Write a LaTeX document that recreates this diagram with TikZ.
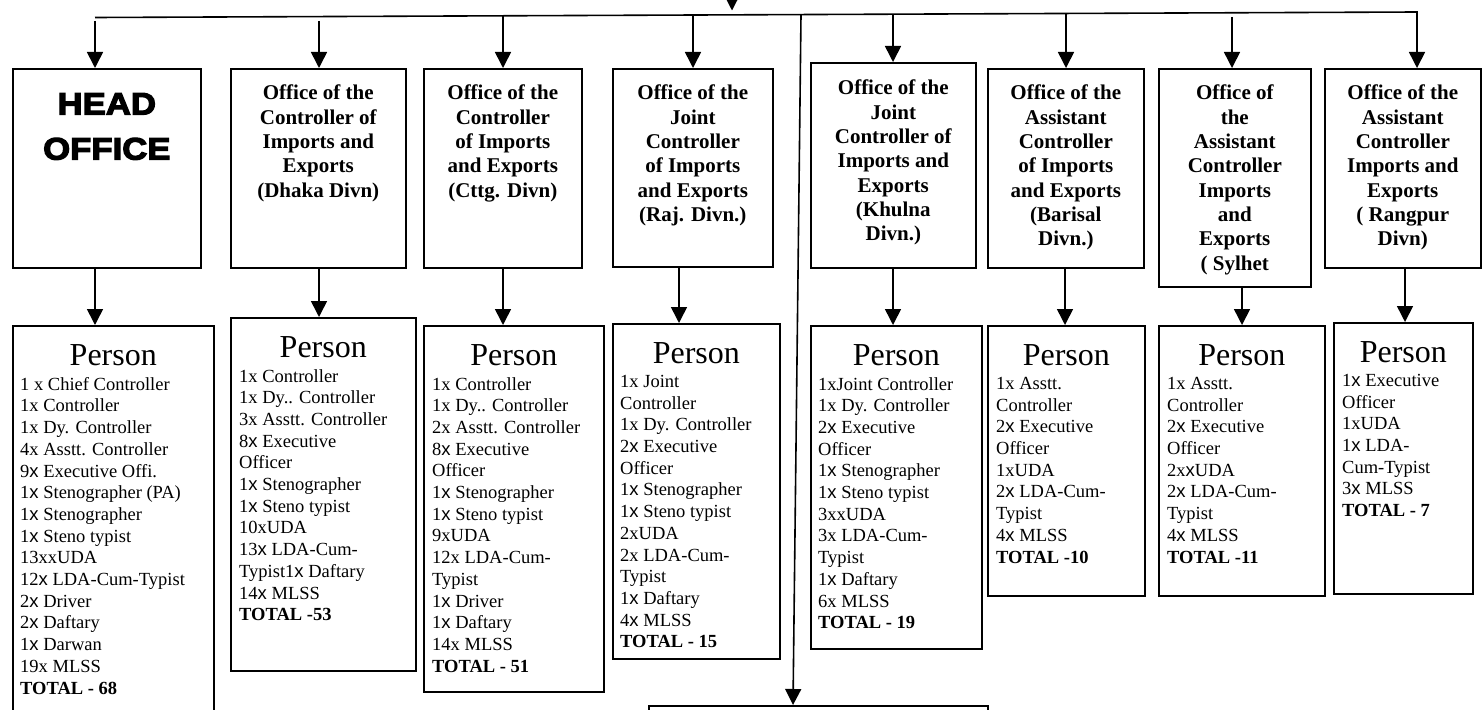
\documentclass[tikz,border=0pt]{standalone}
\usepackage{fontspec}
\setmainfont{Liberation Serif}
\newfontfamily\sxf{Liberation Sans}
\newfontfamily\blackf[FakeBold=4,FakeStretch=1.12]{Liberation Sans Bold}
\usetikzlibrary{arrows.meta,calc}
\newcommand\X{{\sxf x}}
\begin{document}
\begin{tikzpicture}[x=1pt,y=-1pt,
 box/.style={draw, line width=1.6pt, inner sep=0pt, anchor=north west},
 arr/.style={line width=1.6pt, -{Triangle[width=16pt,length=16pt]}},
 ln/.style={line width=1.6pt},
 ttl/.style={font=\bfseries\fontsize{21}{24.3}\selectfont, align=center, anchor=north, inner sep=0pt},
 hd/.style={font=\blackf\fontsize{31}{45}\selectfont, align=center, anchor=north, inner sep=0pt},
 prs/.style={font=\fontsize{32}{36}\selectfont, anchor=base, inner sep=0pt},
 lst/.style={font=\fontsize{18.5}{21.7}\selectfont, align=left, anchor=north west, inner sep=0pt}]
\clip (0,0) rectangle (1482,709);
% top boxes
\node[box, minimum width=188pt, minimum height=199pt] (t1) at (12,68) {};
\node[box, minimum width=175pt, minimum height=199pt] (t2) at (230,68) {};
\node[box, minimum width=158pt, minimum height=199pt] (t3) at (423,68) {};
\node[box, minimum width=160pt, minimum height=198pt] (t4) at (612,68) {};
\node[box, minimum width=165pt, minimum height=205pt] (t5) at (810,62) {};
\node[box, minimum width=156pt, minimum height=199pt] (t6) at (987,68) {};
\node[box, minimum width=152pt, minimum height=218pt] (t7) at (1158,68) {};
\node[box, minimum width=156pt, minimum height=199pt] (t8) at (1324,68) {};
% bottom boxes
\node[box, minimum width=201pt, minimum height=420pt] (b1) at (12,325) {};
\node[box, minimum width=185pt, minimum height=353pt] (b2) at (230,317) {};
\node[box, minimum width=180pt, minimum height=366pt] (b3) at (423,325) {};
\node[box, minimum width=167pt, minimum height=335pt] (b4) at (612,323) {};
\node[box, minimum width=171pt, minimum height=323pt] (b5) at (810,325) {};
\node[box, minimum width=157pt, minimum height=270pt] (b6) at (987,325) {};
\node[box, minimum width=166pt, minimum height=270pt] (b7) at (1158,325) {};
\node[box, minimum width=139pt, minimum height=271pt] (b8) at (1333,322) {};
\node[box, minimum width=339pt, minimum height=60pt] (bot) at (648,705) {};
% titles
\node[hd] (h1) at ($(t1.north)+(0,25)$) {HEAD\\OFFICE};
\node[ttl] (h2) at ($(t2.north)+(0,17)$) {Office of the\\Controller of\\Imports and\\Exports\\(Dhaka Divn)};
\node[ttl] (h3) at ($(t3.north)+(0,17)$) {Office of the\\Controller\\of Imports\\and Exports\\(Cttg. Divn)};
\node[ttl] (h4) at ($(t4.north)+(0,17)$) {Office of the\\Joint\\Controller\\of Imports\\and Exports\\(Raj. Divn.)};
\node[ttl] (h5) at ($(t5.north)+(0,18)$) {Office of the\\Joint\\Controller of\\Imports and\\Exports\\(Khulna\\Divn.)};
\node[ttl] (h6) at ($(t6.north)+(0,17)$) {Office of the\\Assistant\\Controller\\of Imports\\and Exports\\(Barisal\\Divn.)};
\node[ttl] (h7) at ($(t7.north)+(0,17)$) {Office of\\the\\Assistant\\Controller\\Imports\\and\\Exports\\( Sylhet};
\node[ttl] (h8) at ($(t8.north)+(0,17)$) {Office of the\\Assistant\\Controller\\Imports and\\Exports\\( Rangpur\\Divn)};
% Person headings
\foreach \b in {b1,b2,b3,b4,b5,b6,b7,b8}
  \node[prs] (p\b) at ($(\b.north)+(0,40)$) {Person};
% lists
\node[lst] (l1) at ($(b1.north west)+(8,52)$) {1 x Chief Controller\\1x Controller\\1x Dy. Controller\\4x Asstt. Controller\\9\X{} Executive Offi.\\1\X{} Stenographer (PA)\\1\X{} Stenographer\\1\X{} Steno typist\\13xxUDA\\12\X{} LDA-Cum-Typist\\2\X{} Driver\\2\X{} Daftary\\1\X{} Darwan\\19x MLSS\\\textbf{TOTAL - 68}};
\node[lst] (l2) at ($(b2.north west)+(9,52)$) {1x Controller\\1x Dy.. Controller\\3x Asstt. Controller\\8\X{} Executive\\Officer\\1\X{} Stenographer\\1\X{} Steno typist\\10xUDA\\13\X{} LDA-Cum-\\Typist1\X{} Daftary\\14\X{} MLSS\\\textbf{TOTAL -53}};
\node[lst] (l3) at ($(b3.north west)+(9,52)$) {1x Controller\\1x Dy.. Controller\\2x Asstt. Controller\\8\X{} Executive\\Officer\\1\X{} Stenographer\\1\X{} Steno typist\\9xUDA\\12x LDA-Cum-\\Typist\\1\X{} Driver\\1\X{} Daftary\\14x MLSS\\\textbf{TOTAL - 51}};
\node[lst] (l4) at ($(b4.north west)+(8,52)$) {1x Joint\\Controller\\1x Dy. Controller\\2\X{} Executive\\Officer\\1\X{} Stenographer\\1\X{} Steno typist\\2xUDA\\2x LDA-Cum-\\Typist\\1\X{} Daftary\\4\X{} MLSS\\\textbf{TOTAL - 15}};
\node[lst] (l5) at ($(b5.north west)+(8,52)$) {1xJoint Controller\\1x Dy. Controller\\2\X{} Executive\\Officer\\1\X{} Stenographer\\1\X{} Steno typist\\3xxUDA\\3x LDA-Cum-\\Typist\\1\X{} Daftary\\6x MLSS\\\textbf{TOTAL - 19}};
\node[lst] (l6) at ($(b6.north west)+(9,52)$) {1x Asstt.\\Controller\\2\X{} Executive\\Officer\\1xUDA\\2\X{} LDA-Cum-\\Typist\\4\X{} MLSS\\\textbf{TOTAL -10}};
\node[lst] (l7) at ($(b7.north west)+(9,52)$) {1x Asstt.\\Controller\\2\X{} Executive\\Officer\\2x\X{}UDA\\2\X{} LDA-Cum-\\Typist\\4\X{} MLSS\\\textbf{TOTAL -11}};
\node[lst] (l8) at ($(b8.north west)+(9,52)$) {1\X{} Executive\\Officer\\1xUDA\\1\X{} LDA-\\Cum-Typist\\3\X{} MLSS\\\textbf{TOTAL - 7}};
% connector coordinates
\coordinate (src) at (732,-30);
\coordinate (srcend) at (732,10.5);
\coordinate (L0) at (95,17.5);
\coordinate (L1) at (1417,12);
\coordinate (s1) at (95,21);
\coordinate (s2) at (319,21);
\coordinate (s3) at (503,15.8);
\coordinate (s4) at (693,15);
\coordinate (s5) at (893,14.2);
\coordinate (s6) at (1066,13.5);
\coordinate (s7) at (1232,17);
\coordinate (v0) at (801,14.6);
\coordinate (vx) at (793,0);
\coordinate (a1) at (95,0);
\coordinate (a2) at (319,0);
\coordinate (a3) at (503,0);
\coordinate (a4) at (679,0);
\coordinate (a5) at (893,0);
\coordinate (a6) at (1065,0);
\coordinate (a7) at (1242,0);
\coordinate (a8) at (1405,0);
% connectors
\draw[arr] (src) -- (srcend);
\draw[arr] (L0) -- (L1) -- (t8.north -| L1);
\draw[arr] (s1) -- (t1.north -| s1);
\draw[arr] (s2) -- (t2.north -| s2);
\draw[arr] (s3) -- (t3.north -| s3);
\draw[arr] (s4) -- (t4.north -| s4);
\draw[arr] (s5) -- (t5.north -| s5);
\draw[arr] (s6) -- (t6.north -| s6);
\draw[arr] (s7) -- (t7.north -| s7);
\draw[arr] (v0) -- (bot.north -| vx);
\draw[arr] (t1.south -| a1) -- (b1.north -| a1);
\draw[arr] (t2.south -| a2) -- (b2.north -| a2);
\draw[arr] (t3.south -| a3) -- (b3.north -| a3);
\draw[arr] (t4.south -| a4) -- (b4.north -| a4);
\draw[arr] (t5.south -| a5) -- (b5.north -| a5);
\draw[arr] (t6.south -| a6) -- (b6.north -| a6);
\draw[arr] (t7.south -| a7) -- (b7.north -| a7);
\draw[arr] (t8.south -| a8) -- (b8.north -| a8);
\end{tikzpicture}
\end{document}
